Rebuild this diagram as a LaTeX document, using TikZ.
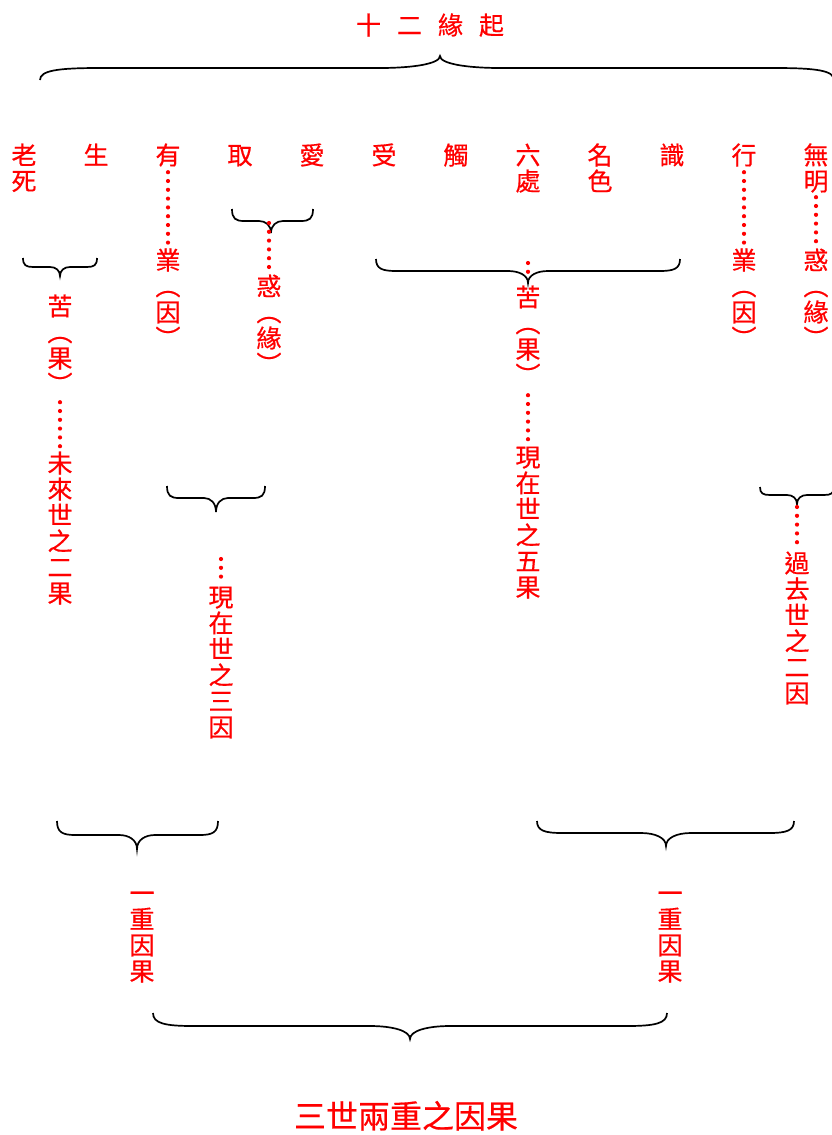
\documentclass[tikz,border=0pt]{standalone}
\usepackage{fontspec}
\newfontfamily\cjk[FakeBold=0.5]{Noto Sans CJK TC}
\newcommand\vcol[4]{% name, x, y of first char, list of chars
  \foreach \c [count=\i from 0] in {#4} \node[lab] (#1\i) at (#2,{#3+26*\i}) {\c};}
\newcommand\cbrace[7]{% xL, xR, xm, y-ends, y-flat, y-tip, curl width
  \draw[bracestyle] (#1,#4) .. controls (#1,{#4+0.8*(#5-#4)}) and ({#1+0.3*#7},#5) .. ({#1+#7},#5)
    -- ({#3-#7},#5) .. controls ({#3-0.45*#7},#5) and (#3,{#5+0.35*(#6-#5)}) .. (#3,#6)
    .. controls (#3,{#5+0.35*(#6-#5)}) and ({#3+0.45*#7},#5) .. ({#3+#7},#5)
    -- ({#2-#7},#5) .. controls ({#2-0.3*#7},#5) and (#2,{#4+0.8*(#5-#4)}) .. (#2,#4);}
\begin{document}
\begin{tikzpicture}[x=1pt,y=-1pt,
  lab/.style={text=red,inner sep=0pt,font=\cjk\fontsize{25}{26}\selectfont,text height=22pt,text depth=3pt},
  bigl/.style={text=red,inner sep=0pt,font=\cjk\fontsize{32}{32}\selectfont,text height=28pt,text depth=4pt},
  bracestyle/.style={black,line width=1.7pt},
  reddot/.style={red,line width=4.2pt,line cap=round,dash pattern=on 0pt off 8.8pt}]
\useasboundingbox[fill=white] (0,0) rectangle (832,1135);

% title
\node[lab] (title) at (430,25) {十\hspace{16pt}二\hspace{16pt}緣\hspace{16pt}起};
\cbrace{40}{834}{440}{80}{68}{56}{60}

% twelve links
\node[lab] (lao) at (24,155) {老};
\node[lab] (si) at (24,181) {死};
\node[lab] (sheng) at (96,155) {生};
\node[lab] (you) at (168,155) {有};
\node[lab] (qu) at (240,155) {取};
\node[lab] (ai) at (312,155) {愛};
\node[lab] (shou) at (384,155) {受};
\node[lab] (chu) at (456,155) {觸};
\node[lab] (liu) at (528,155) {六};
\node[lab] (chu2) at (528,181) {處};
\node[lab] (ming1) at (600,155) {名};
\node[lab] (se) at (600,181) {色};
\node[lab] (shi) at (672,155) {識};
\node[lab] (xing) at (744,155) {行};
\node[lab] (wu) at (816,155) {無};
\node[lab] (ming) at (816,181) {明};

% columns under single links
\vcol{yeA}{168}{260}{業,︵,因,︶}
\draw[reddot,shorten <=4.5pt,shorten >=4.5pt] (you.south) -- (yeA0.north);
\vcol{yeB}{744}{260}{業,︵,因,︶}
\draw[reddot,shorten <=4.5pt,shorten >=4.5pt] (xing.south) -- (yeB0.north);
\vcol{huoB}{816}{260}{惑,︵,緣,︶}
\draw[reddot,shorten <=3.5pt,shorten >=4.5pt] (ming.south) -- (huoB0.north);

% qu-ai brace
\cbrace{232}{313}{271}{209}{221}{233}{12}
\coordinate (qaTip) at (269,223);
\vcol{huoA}{269}{286}{惑,︵,緣,︶}
\draw[reddot,shorten >=5.5pt] (qaTip) -- (huoA0.north);

% laosi-sheng brace
\cbrace{23}{97}{60}{258}{267}{276}{10}
\vcol{kuA}{60}{306}{苦,︵,果,︶}
\vcol{wei}{60}{463}{未,來,世,之,二,果}
\draw[reddot,shorten <=5.5pt,shorten >=3.5pt] (kuA3.south) -- (wei0.north);

% shou..shi brace
\cbrace{376}{680}{528}{259}{271}{283}{20}
\coordinate (wuTip) at (528,263);
\vcol{kuB}{528}{297}{苦,︵,果,︶}
\draw[reddot,shorten >=4pt] (wuTip) -- (kuB0.north);
\vcol{xianB}{528}{457}{現,在,世,之,五,果}
\draw[reddot,shorten <=7.5pt,shorten >=4.5pt] (kuB3.south) -- (xianB0.north);

% you-qu-ai lower brace
\cbrace{167}{265}{216}{486}{498}{512}{12}
\coordinate (sanTop) at (221,559);
\vcol{xianA}{221}{597}{現,在,世,之,三,因}
\draw[reddot,shorten >=6.5pt] (sanTop) -- (xianA0.north);

% xing-wuming lower brace
\cbrace{760}{834}{797}{487}{495}{504}{10}
\coordinate (guoTip) at (797,507);
\vcol{guo}{797}{563}{過,去,世,之,二,因}
\draw[reddot,shorten >=5.5pt] (guoTip) -- (guo0.north);

% two layers
\cbrace{57}{218}{137}{821}{835}{849}{18}
\vcol{yiA}{142}{893}{一,重,因,果}
\cbrace{537}{794}{666}{821}{833}{846}{25}
\vcol{yiB}{670}{893}{一,重,因,果}

% bottom
\cbrace{153}{667}{410}{1013}{1026}{1039}{40}
\node[bigl] (summary) at (406,1116) {三世兩重之因果};
\end{tikzpicture}
\end{document}
